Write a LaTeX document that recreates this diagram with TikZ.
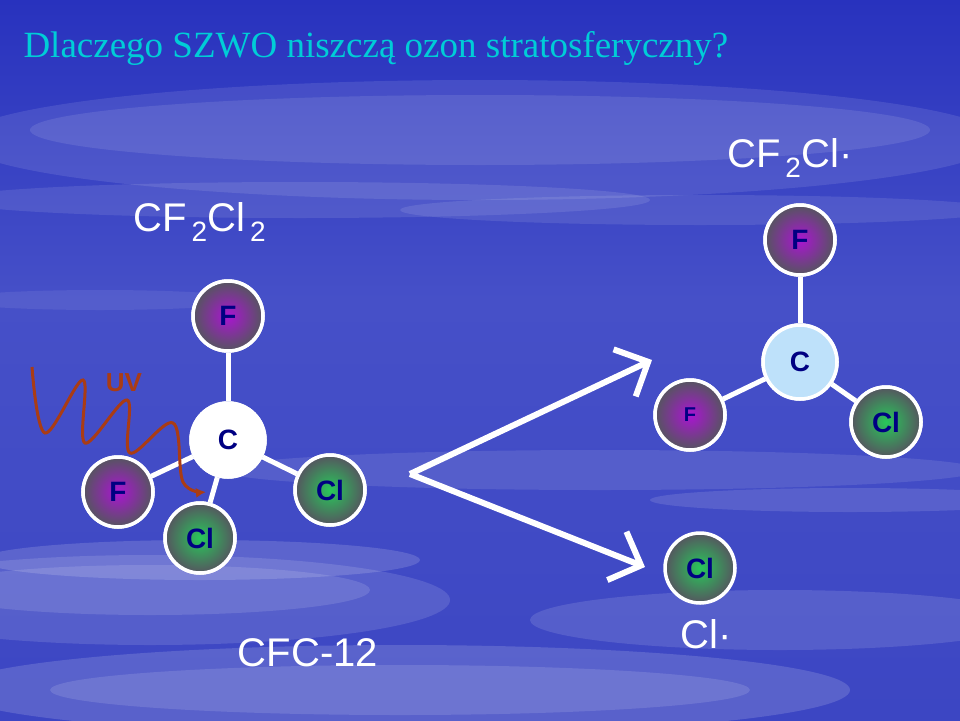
\documentclass[tikz,border=0pt]{standalone}
\usepackage{fontspec}
\setmainfont{Liberation Serif}
\setsansfont{Liberation Sans}
\usetikzlibrary{arrows.meta}
\definecolor{bgtop}{RGB}{40,50,190}
\definecolor{bgmid}{RGB}{70,80,200}
\definecolor{bgbot}{RGB}{60,70,195}
\definecolor{txtblue}{RGB}{0,0,130}
\definecolor{fmag}{RGB}{170,20,210}
\definecolor{clgreen}{RGB}{40,200,90}
\definecolor{atgray}{RGB}{85,85,95}
\definecolor{uvbrown}{RGB}{170,60,20}
\definecolor{titlec}{RGB}{0,205,215}
\tikzset{
  atom/.style={circle, minimum size=70pt, draw=white, line width=3.5pt, font=\sffamily\bfseries\fontsize{28}{30}\selectfont, text=txtblue, inner sep=0pt},
  fatom/.style={atom, inner color=fmag, outer color=atgray},
  clatom/.style={atom, inner color=clgreen, outer color=atgray},
  catom/.style={atom, fill=white, minimum size=74pt},
  bond/.style={white, line width=5pt},
  bigarrow/.style={white, line width=6pt, -{Straight Barb[length=26pt,width=52pt,line width=6pt]}},
  formula/.style={text=white, font=\sffamily\fontsize{40}{44}\selectfont}
}
\begin{document}
\begin{tikzpicture}[x=1pt,y=-1pt]
\useasboundingbox (0,0) rectangle (960,720);
\shade[top color=bgtop, bottom color=bgmid] (0,0) rectangle (960,300);
\shade[top color=bgmid, bottom color=bgbot] (0,300) rectangle (960,720);
% cloud bands
\foreach \cx/\cy/\rx/\ry/\op in {480/140/520/60/0.1, 480/130/450/35/0.1, 300/200/350/18/0.1, 700/210/300/15/0.1, 150/600/300/45/0.12, 150/590/220/25/0.12, 400/690/450/45/0.15, 400/690/350/25/0.12, 780/620/250/30/0.12, 600/470/380/20/0.1, 200/560/220/20/0.15, 850/500/200/12/0.12, 100/300/150/10/0.08}{
  \fill[white, opacity=\op] (\cx,\cy) ellipse [x radius=\rx, y radius=\ry];
}
% title
\node[anchor=west, font=\fontsize{37}{40}\selectfont, text=titlec] (title) at (20,48) {Dlaczego SZWO niszczą ozon stratosferyczny?};
% formulas
\node[formula] (f1) at (200,222) {CF\textsubscript{\,2}Cl\textsubscript{\,2}};
\node[formula] (f2) at (790,158) {CF\textsubscript{\,2}Cl·};
\node[formula] (f3) at (308,653) {CFC-12};
\node[formula] (f4) at (706,634) {Cl·};
% left molecule
\node[catom] (C1) at (228,440) {C};
\node[fatom] (F1t) at (228,316) {F};
\node[fatom] (F1l) at (118,492) {F};
\node[clatom] (Cl1b) at (200,538) {Cl};
\node[clatom] (Cl1r) at (330,490) {Cl};
\draw[bond] (F1t) -- (C1);
\draw[bond] (F1l) -- (C1);
\draw[bond] (Cl1b) -- (C1);
\draw[bond] (Cl1r) -- (C1);
% right molecule
\node[catom, fill={rgb,255:red,190;green,225;blue,250}] (C2) at (800,362) {C};
\node[fatom] (F2t) at (800,240) {F};
\node[fatom, font=\sffamily\bfseries\fontsize{20}{22}\selectfont] (F2l) at (690,415) {F};
\node[clatom] (Cl2r) at (886,422) {Cl};
\node[clatom] (Cl2) at (700,568) {Cl};
\draw[bond] (F2t) -- (C2);
\draw[bond] (F2l) -- (C2);
\draw[bond] (Cl2r) -- (C2);
% redraw atoms over bonds
\node[catom] at (C1) {C};
\node[fatom] at (F1t) {F};
\node[fatom] at (F1l) {F};
\node[clatom] at (Cl1b) {Cl};
\node[clatom] at (Cl1r) {Cl};
\node[catom, fill={rgb,255:red,190;green,225;blue,250}] at (C2) {C};
\node[fatom] at (F2t) {F};
\node[fatom, font=\sffamily\bfseries\fontsize{20}{22}\selectfont] at (F2l) {F};
\node[clatom] at (Cl2r) {Cl};
% UV
\draw[uvbrown, line width=3pt, -{Latex[length=10pt,width=10pt]}] plot[smooth, tension=0.6] coordinates {(32,367) (45,433) (83,380) (85,443) (127,400) (130,453) (173,423) (183,482) (206,492)};
\node[text=uvbrown, font=\sffamily\bfseries\fontsize{26}{28}\selectfont] (uv) at (124,383) {UV};
% arrows
\coordinate (v) at (410,474);
\coordinate (a1) at (652,360);
\coordinate (a2) at (645,567);
\draw[bigarrow] (v) -- (a1);
\draw[bigarrow] (v) -- (a2);
\end{tikzpicture}
\end{document}
